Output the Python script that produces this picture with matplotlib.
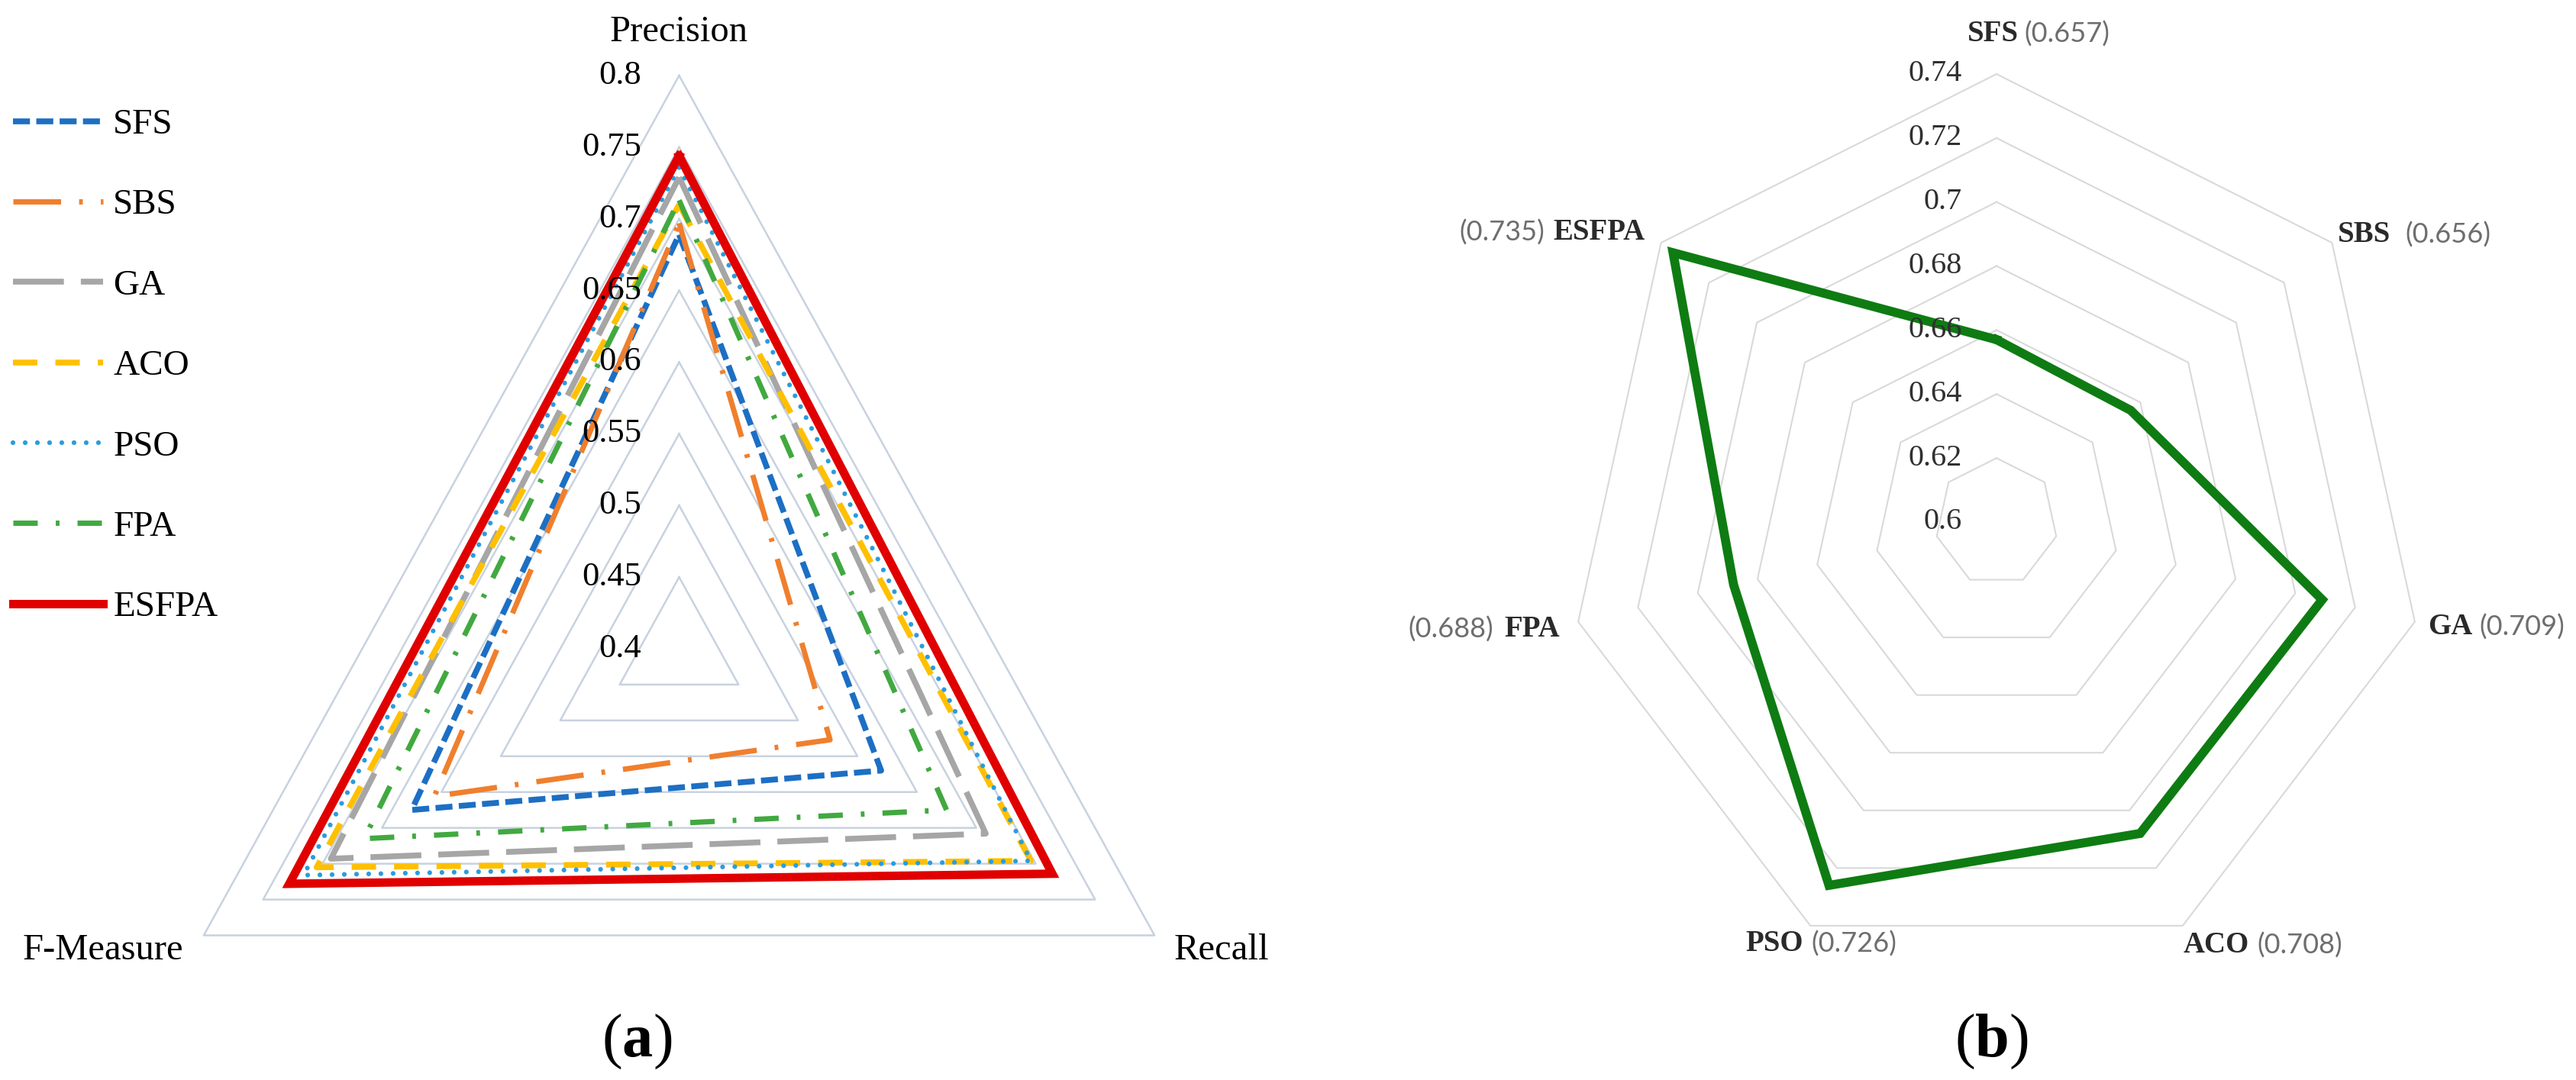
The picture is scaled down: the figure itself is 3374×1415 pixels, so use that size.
import numpy as np
import matplotlib
matplotlib.use("Agg")
import matplotlib.pyplot as plt

# ---------------- data: panel (a) ----------------
metrics = ["Precision", "Recall", "F-Measure"]
methods = ["SFS", "SBS", "GA", "ACO", "PSO", "FPA", "ESFPA"]
precision = [0.689, 0.697, 0.729, 0.710, 0.736, 0.713, 0.744]
recall = [0.570, 0.527, 0.658, 0.696, 0.696, 0.625, 0.714]
fmeasure = [0.625, 0.606, 0.693, 0.705, 0.716, 0.665, 0.728]
ticks_a = [0.4, 0.45, 0.5, 0.55, 0.6, 0.65, 0.7, 0.75, 0.8]

# ---------------- data: panel (b) ----------------
cats_b = ["SFS", "SBS", "GA", "ACO", "PSO", "FPA", "ESFPA"]
vals_b = [0.657, 0.656, 0.709, 0.708, 0.726, 0.688, 0.735]
ticks_b = [0.6, 0.62, 0.64, 0.66, 0.68, 0.7, 0.72, 0.74]

# ---------------- styles ----------------
plt.rcParams["lines.scale_dashes"] = False
plt.rcParams["mathtext.fontset"] = "custom"
plt.rcParams["mathtext.rm"] = "Liberation Serif"
plt.rcParams["mathtext.bf"] = "Liberation Serif:bold"
SERIF = ["Liberation Serif", "DejaVu Serif"]
SANS = ["Lato", "DejaVu Sans"]

styles = {
    "SFS":   dict(color="#1C6FC4", lw=5.5, dashes=(16, 6)),
    "SBS":   dict(color="#F07F2D", lw=5.0, dashes=(45, 17, 3.5, 17)),
    "GA":    dict(color="#A6A6A6", lw=5.5, dashes=(48, 16)),
    "ACO":   dict(color="#FFC000", lw=5.5, dashes=(23, 17)),
    "PSO":   dict(color="#2B9CDD", lw=4.5, dashes=(0.01, 11.5), dash_capstyle="round"),
    "FPA":   dict(color="#41A940", lw=5.0, dashes=(23, 17, 3.5, 17)),
    "ESFPA": dict(color="#E00000", lw=8.0),
}

W, H = 3374, 1415
fig = plt.figure(figsize=(W / 100, H / 100), dpi=100)
fig.patch.set_facecolor("white")


def overlay_axes(cx, cy, rx, ry):
    ax = fig.add_axes([0, 0, 1, 1])
    ax.set_xlim(-cx / rx, (W - cx) / rx)
    ax.set_ylim(-(H - cy) / ry, cy / ry)
    ax.set_facecolor("none")
    ax.axis("off")
    return ax


def polar_xy(values, angles, vmin, vmax):
    r = (np.asarray(values, float) - vmin) / (vmax - vmin)
    x = r * np.cos(angles)
    y = r * np.sin(angles)
    return np.append(x, x[0]), np.append(y, y[0])


# ================= panel (a): triangle radar =================
ax_a = overlay_axes(889.5, 850, 719, 751)
ang_a = np.deg2rad([90, -30, 210])
vmin_a, vmax_a = ticks_a[0], ticks_a[-1]

for t in ticks_a[1:]:
    gx, gy = polar_xy([t] * 3, ang_a, vmin_a, vmax_a)
    ax_a.plot(gx, gy, color="#C8D2DF", lw=1.8, zorder=1)

handles = []
for i, m in enumerate(methods):
    vals = [precision[i], recall[i], fmeasure[i]]
    sx, sy = polar_xy(vals, ang_a, vmin_a, vmax_a)
    st = dict(styles[m])
    ln, = ax_a.plot(sx, sy, solid_joinstyle="miter", zorder=3 + i, label=m, **st)
    handles.append(ln)

for t in ticks_a:
    r = (t - vmin_a) / (vmax_a - vmin_a)
    ax_a.text(-0.069, r, f"{t:g}", ha="right", va="center", fontsize=32,
              family=SERIF, color="#000000", zorder=20)

ax_a.text(0.0, 1.076, metrics[0], ha="center", va="center", fontsize=35, family=SERIF)
ax_a.text(0.902, -0.526, metrics[1], ha="left", va="center", fontsize=35, family=SERIF)
ax_a.text(-0.903, -0.526, metrics[2], ha="right", va="center", fontsize=35, family=SERIF)

leg = ax_a.legend(handles=handles, labels=methods, loc="upper left",
                  bbox_to_anchor=(17 / W, 1 - 142 / H), bbox_transform=fig.transFigure,
                  frameon=False, prop={"family": SERIF, "size": 34},
                  handlelength=2.5, handletextpad=0.28, labelspacing=1.32,
                  borderpad=0, borderaxespad=0)

# ================= panel (b): heptagon radar =================
ax_b = overlay_axes(2615, 684, 562, 587)
n = len(cats_b)
ang_b = np.deg2rad(90 - np.arange(n) * 360.0 / n)
vmin_b, vmax_b = ticks_b[0], ticks_b[-1]

for t in ticks_b[1:]:
    gx, gy = polar_xy([t] * n, ang_b, vmin_b, vmax_b)
    ax_b.plot(gx, gy, color="#D9D9D9", lw=1.5, zorder=1)

bx, by = polar_xy(vals_b, ang_b, vmin_b, vmax_b)
ax_b.plot(bx, by, color="#0E7C12", lw=8.5, solid_joinstyle="miter", zorder=5)

for t in ticks_b:
    r = (t - vmin_b) / (vmax_b - vmin_b)
    ax_b.text(-0.08, r, f"{t:g}", ha="right", va="center", fontsize=29,
              family=SERIF, color="#303030", zorder=20)

# label layout: (x, y, ha of name, value side, gap in points)
label_layout = [
    (-0.009, 1.089, "center", "after", 6),
    (0.795, 0.642, "left", "after", 14),
    (1.005, -0.235, "left", "after", 7),
    (0.436, -0.944, "left", "after", 7),
    (-0.584, -0.942, "left", "after", 7),
    (-1.018, -0.239, "right", "before", 10),
    (-0.819, 0.646, "right", "before", 8),
]
for c, v, (lx, ly, ha, side, gap) in zip(cats_b, vals_b, label_layout):
    nt = ax_b.text(lx, ly, c, ha=ha, va="center", fontsize=28, family=SERIF,
                   weight="bold", color="#2A2A2A")
    if side == "after":
        ax_b.annotate(f"({v:.3f})", xy=(1, 0.5), xycoords=nt, xytext=(gap, 0),
                      textcoords="offset points", ha="left", va="center",
                      fontsize=26, family=SANS, color="#6E6E6E")
    else:
        ax_b.annotate(f"({v:.3f})", xy=(0, 0.5), xycoords=nt, xytext=(-gap, 0),
                      textcoords="offset points", ha="right", va="center",
                      fontsize=26, family=SANS, color="#6E6E6E")

# ================= captions =================
fig.text(834 / W, 1 - 1365 / H, r"($\mathbf{a}$)", ha="center", va="center",
         fontsize=58, family=SERIF)
fig.text(2608 / W, 1 - 1365 / H, r"($\mathbf{b}$)", ha="center", va="center",
         fontsize=58, family=SERIF)

fig.savefig("out.png", dpi=100, facecolor="white")
